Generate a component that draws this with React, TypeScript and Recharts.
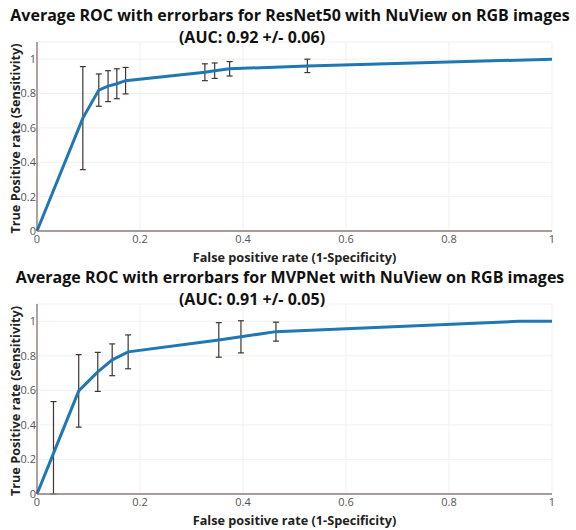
import React from "react";
import { LineChart, Line, XAxis, YAxis, CartesianGrid, ErrorBar } from "recharts";

// ResNet50 curve (false positive rate, true positive rate, error)
const resnetFpr = [0, 0.089, 0.12, 0.138, 0.155, 0.172, 0.326, 0.345, 0.374, 0.525, 1];
const resnetTpr = [0, 0.657, 0.82, 0.843, 0.857, 0.875, 0.924, 0.933, 0.944, 0.961, 1];
const resnetErr = [0, 0.3, 0.094, 0.09, 0.087, 0.077, 0.049, 0.045, 0.042, 0.039, 0];

// MVPNet curve
const mvpFpr = [0, 0.032, 0.081, 0.118, 0.146, 0.177, 0.353, 0.396, 0.464, 0.935, 1];
const mvpTpr = [0, 0.235, 0.597, 0.707, 0.777, 0.823, 0.892, 0.91, 0.94, 1, 1];
const mvpErr: (number | number[])[] = [0, [0.235, 0.3], 0.21, 0.113, 0.092, 0.098, 0.1, 0.093, 0.055, 0, 0];

const xTicks = [0, 0.2, 0.4, 0.6, 0.8, 1];
const yTicks = [0, 0.2, 0.4, 0.6, 0.8, 1];

const FONT = "'Open Sans', sans-serif";

const toRows = (fpr: number[], tpr: number[], err: any[]) =>
  fpr.map((x, i) => ({ fpr: x, tpr: tpr[i], err: err[i] || undefined }));

const yTitle = (props: any) => {
  const vb = props.viewBox;
  const cx = 15;
  const cy = vb.y + vb.height / 2 + 2;
  return (
    <text
      x={cx}
      y={cy}
      transform={`rotate(-90, ${cx}, ${cy})`}
      textAnchor="middle"
      dominantBaseline="central"
      fontFamily={FONT}
      fontWeight={700}
      fontSize={12.7}
      fill="#222"
    >
      True Positive rate (Sensitivity)
    </text>
  );
};

const xTitle = (props: any) => {
  const vb = props.viewBox;
  return (
    <text
      x={vb.x + vb.width / 2}
      y={vb.y + 26}
      textAnchor="middle"
      dominantBaseline="central"
      fontFamily={FONT}
      fontWeight={700}
      fontSize={12.7}
      fill="#222"
    >
      False positive rate (1-Specificity)
    </text>
  );
};

function RocChart({ rows, height }: { rows: any[]; height: number }) {
  return (
    <LineChart
      width={576}
      height={height}
      data={rows}
      margin={{ top: 42, right: 24, bottom: 14, left: 0 }}
    >
      <CartesianGrid stroke="#f0f0ee" vertical horizontal />
      <XAxis
        dataKey="fpr"
        type="number"
        domain={[0, 1]}
        ticks={xTicks}
        height={20}
        tickLine={false}
        tickSize={3}
        tickMargin={1}
        stroke="#8c7f78"
        strokeWidth={1.5}
        tick={{ fill: "#555", fontSize: 11, fontFamily: FONT }}
        label={xTitle}
      />
      <YAxis
        type="number"
        domain={[0, 1.1]}
        ticks={yTicks}
        width={37}
        tickLine={false}
        tickSize={0}
        tickMargin={1}
        stroke="#6e4a48"
        strokeWidth={1}
        tick={{ fill: "#555", fontSize: 11, fontFamily: FONT }}
        label={yTitle}
      />
      <Line
        dataKey="tpr"
        type="linear"
        stroke="#1f77b4"
        strokeWidth={3}
        dot={false}
        isAnimationActive={false}
      >
        <ErrorBar dataKey="err" direction="y" width={3} stroke="#3f3530" strokeWidth={1.2} />
      </Line>
    </LineChart>
  );
}

const titleStyle = (top: number, center: number): React.CSSProperties => ({
  position: "absolute",
  top,
  left: center - 300,
  width: 600,
  textAlign: "center",
  fontFamily: FONT,
  fontWeight: 700,
  fontSize: 16,
  lineHeight: "22px",
  color: "#111",
  whiteSpace: "nowrap",
});

export default function App() {
  const resnetRows = toRows(resnetFpr, resnetTpr, resnetErr);
  const mvpRows = toRows(mvpFpr, mvpTpr, mvpErr);
  return (
    <div style={{ position: "absolute", left: 0, top: 0, width: 576, height: 530, background: "#fff" }}>
      <div style={{ position: "absolute", left: 0, top: 0 }}>
        <RocChart rows={resnetRows} height={265} />
      </div>
      <div style={{ position: "absolute", left: 0, top: 262 }}>
        <RocChart rows={mvpRows} height={266} />
      </div>
      <div style={titleStyle(4, 290)}>Average ROC with errorbars for ResNet50 with NuView on RGB images</div>
      <div style={titleStyle(26, 252)}>(AUC: 0.92 +/- 0.06)</div>
      <div style={titleStyle(266, 290)}>Average ROC with errorbars for MVPNet with NuView on RGB images</div>
      <div style={titleStyle(288, 252)}>(AUC: 0.91 +/- 0.05)</div>
    </div>
  );
}
